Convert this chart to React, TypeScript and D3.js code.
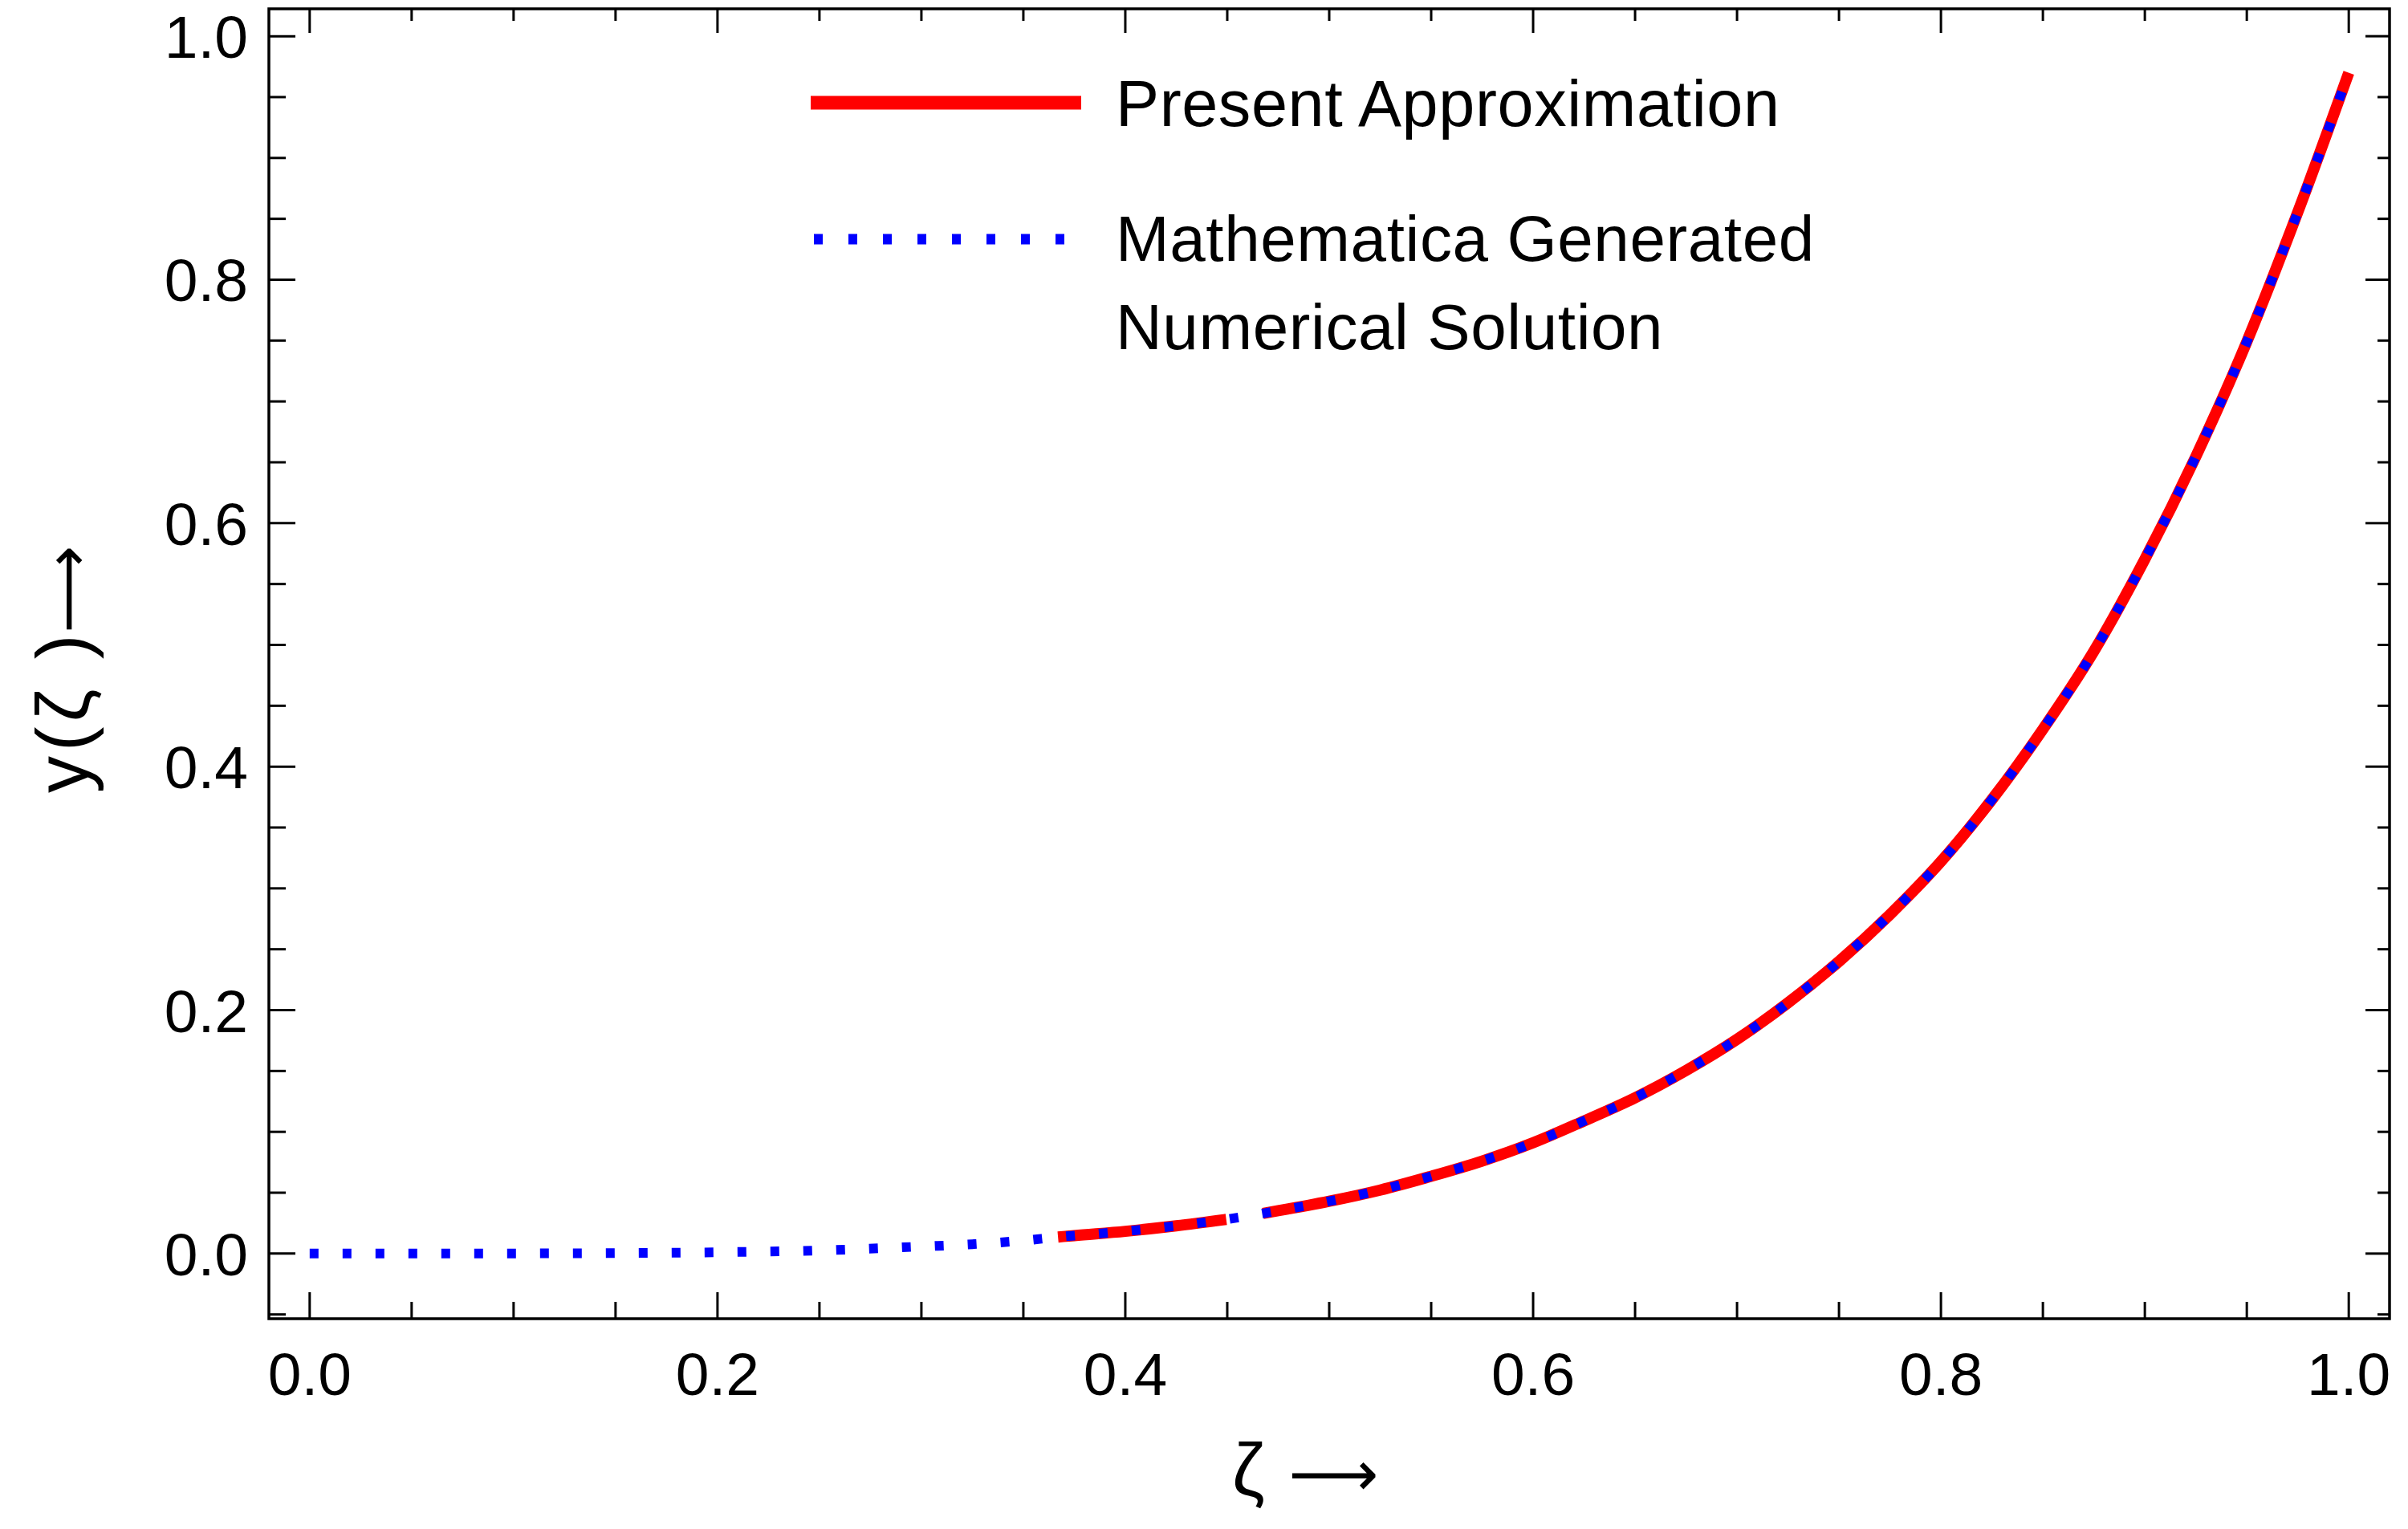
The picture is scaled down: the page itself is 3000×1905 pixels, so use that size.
import React from "react";
import * as d3 from "d3";

// ---- data ----
const zeta = [0, 0.05, 0.1, 0.15, 0.2, 0.25, 0.3, 0.325, 0.35, 0.367, 0.375, 0.4, 0.425, 0.4495, 0.458, 0.4675, 0.475, 0.5, 0.525, 0.55, 0.575, 0.6, 0.625, 0.65, 0.675, 0.7, 0.725, 0.75, 0.775, 0.8, 0.825, 0.85, 0.875, 0.9, 0.925, 0.95, 0.975, 1.0];
const numericalSolution = [0, 0.0, 0.0001, 0.0004, 0.0011, 0.0026, 0.0058, 0.0077, 0.0107, 0.0136, 0.0148, 0.0183, 0.0228, 0.0281, 0.0303, 0.033, 0.0352, 0.043, 0.0522, 0.0635, 0.076, 0.091, 0.109, 0.128, 0.1504, 0.176, 0.206, 0.24, 0.2785, 0.322, 0.373, 0.4307, 0.4948, 0.5703, 0.6547, 0.749, 0.8555, 0.97];
const presentApproximation: (number | null)[] = [null, null, null, null, null, null, null, null, null, 0.0136, 0.0148, 0.0183, 0.0228, 0.0281, null, 0.033, 0.0352, 0.043, 0.0522, 0.0635, 0.076, 0.091, 0.109, 0.128, 0.1504, 0.176, 0.206, 0.24, 0.2785, 0.322, 0.373, 0.4307, 0.4948, 0.5703, 0.6547, 0.749, 0.8555, 0.97];
const xTickLabels = ["0.0", "0.2", "0.4", "0.6", "0.8", "1.0"];
const yTickLabels = ["0.0", "0.2", "0.4", "0.6", "0.8", "1.0"];
const legendLabels = ["Present Approximation", "Mathematica Generated", "Numerical Solution"];

const W = 3000;
const H = 1905;
const FONT = "'Liberation Sans', Arial, sans-serif";
const ARROW_FONT = "'DejaVu Sans', sans-serif";

export default function App() {
  const x = d3.scaleLinear().domain([-0.02, 1.02]).range([335, 2977]);
  const y = d3.scaleLinear().domain([-0.0535, 1.0225]).range([1643, 11]);

  const minorX = x.ticks(20);
  const minorY = y.ticks(20);
  const isMajor = (v: number) => Math.abs(v / 0.2 - Math.round(v / 0.2)) < 1e-6;

  const blueData = zeta.map((z, i) => [z, numericalSolution[i]] as [number, number]);
  const redData = zeta.map((z, i) => [z, presentApproximation[i]] as [number, number | null]);

  const blueLine = d3
    .line<[number, number]>()
    .x((d) => x(d[0]))
    .y((d) => y(d[1]))
    .curve(d3.curveMonotoneX)(blueData) as string;

  const redLine = d3
    .line<[number, number | null]>()
    .defined((d) => d[1] !== null)
    .x((d) => x(d[0]))
    .y((d) => y(d[1] as number))
    .curve(d3.curveMonotoneX)(redData) as string;

  const [x0, x1] = x.range();
  const [y0, y1] = y.range();

  return (
    <svg
      width={W}
      height={H}
      viewBox={`0 0 ${W} ${H}`}
      style={{ position: "absolute", left: 0, top: 0, background: "#fff" }}
      fontFamily={FONT}
    >
      <rect x={0} y={0} width={W} height={H} fill="#fff" />

      {/* curves */}
      <path d={redLine} fill="none" stroke="#ff0000" strokeWidth={14} strokeLinecap="butt" strokeLinejoin="round" />
      <path d={blueLine} fill="none" stroke="#0000ff" strokeWidth={12} strokeDasharray="11 30" strokeLinecap="butt" />

      {/* ticks bottom / top */}
      {minorX.map((v) => {
        const major = isMajor(v);
        const px = x(v);
        return (
          <g key={"xt" + v}>
            <line x1={px} x2={px} y1={y0} y2={y0 - (major ? 33 : 21)} stroke="#000" strokeWidth={3} />
            <line x1={px} x2={px} y1={y1} y2={y1 + (major ? 30 : 15)} stroke="#000" strokeWidth={3} />
          </g>
        );
      })}
      {/* ticks left / right */}
      {minorY.map((v) => {
        const major = isMajor(v);
        const py = y(v);
        return (
          <g key={"yt" + v}>
            <line x1={x0} x2={x0 + (major ? 33 : 21)} y1={py} y2={py} stroke="#000" strokeWidth={3} />
            <line x1={x1} x2={x1 - (major ? 30 : 15)} y1={py} y2={py} stroke="#000" strokeWidth={3} />
          </g>
        );
      })}

      {/* frame */}
      <rect x={x0} y={y1} width={x1 - x0} height={y0 - y1} fill="none" stroke="#000" strokeWidth={3.5} />

      {/* tick labels */}
      {xTickLabels.map((t) => (
        <text key={"xl" + t} x={x(+t)} y={1738} fontSize={75} textAnchor="middle" fill="#000">
          {t}
        </text>
      ))}
      {yTickLabels.map((t) => (
        <text key={"yl" + t} x={309} y={y(+t) + 27} fontSize={75} textAnchor="end" fill="#000">
          {t}
        </text>
      ))}

      {/* axis labels */}
      <text x={1535} y={1863} fontSize={92} fill="#000">
        ζ<tspan dx={30} fontSize={78} fontFamily={ARROW_FONT}>⟶</tspan>
      </text>
      <text transform="translate(110, 988) rotate(-90)" fontSize={92} fill="#000" letterSpacing={6}>
        y(ζ )<tspan dx={-4} fontSize={76} letterSpacing={0} fontFamily={ARROW_FONT}>⟶</tspan>
      </text>

      {/* legend */}
      <line x1={1010} x2={1347} y1={128} y2={128} stroke="#ff0000" strokeWidth={17} />
      <text x={1390} y={157} fontSize={81} letterSpacing={0.6} fill="#000">
        {legendLabels[0]}
      </text>
      <line x1={1014} x2={1326} y1={298} y2={298} stroke="#0000ff" strokeWidth={13} strokeDasharray="11 32" />
      <text x={1390} y={325} fontSize={80} letterSpacing={0.6} fill="#000">
        {legendLabels[1]}
      </text>
      <text x={1390} y={435} fontSize={80} letterSpacing={0.6} fill="#000">
        {legendLabels[2]}
      </text>
    </svg>
  );
}
